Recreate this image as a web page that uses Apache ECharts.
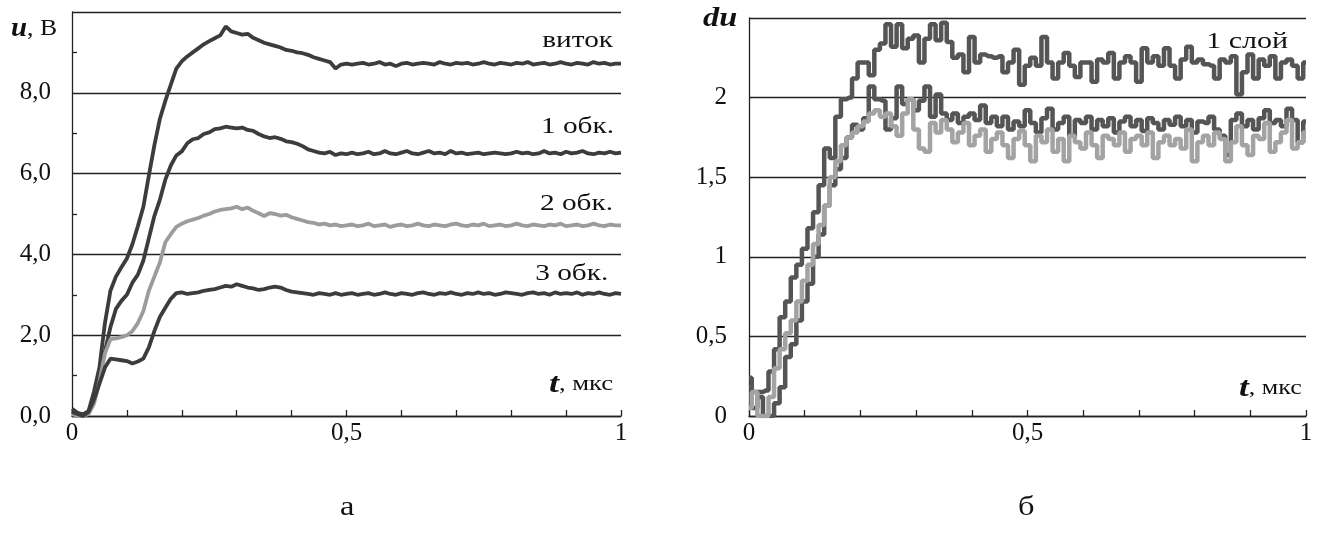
<!DOCTYPE html>
<html>
<head>
<meta charset="utf-8">
<script src="https://cdn.jsdelivr.net/npm/echarts@6/dist/echarts.min.js"></script>
<style>
  html, body { margin: 0; padding: 0; background: #fff; }
  #c { width: 1326px; height: 535px; }
</style>
</head>
<body>
<div id="c"></div>
<script>
// Sampling step of the time axis, microseconds
const T_STEP = 0.01;

// Panel а: voltage u, V for t = 0 … 1 µs
const vitok = [
  0.18, 0.08, 0.04, 0.12, 0.6, 1.2, 2.3, 3.1, 3.45, 3.68,
  3.9, 4.25, 4.7, 5.18, 5.95, 6.7, 7.35, 7.8, 8.2, 8.6,
  8.78, 8.9, 9.0, 9.1, 9.2, 9.28, 9.35, 9.42, 9.64, 9.52,
  9.48, 9.44, 9.46, 9.36, 9.3, 9.24, 9.2, 9.16, 9.12, 9.06,
  9.04, 9.0, 8.98, 8.94, 8.88, 8.84, 8.8, 8.76, 8.6, 8.7,
  8.72,
  8.7, 8.72, 8.74, 8.7, 8.72, 8.76, 8.7, 8.72, 8.66, 8.72,
  8.74, 8.7, 8.72, 8.74, 8.72, 8.7, 8.76, 8.72, 8.7, 8.74,
  8.72, 8.74, 8.7, 8.72, 8.76, 8.72, 8.7, 8.74, 8.72, 8.7,
  8.74, 8.72, 8.76, 8.7, 8.72, 8.74, 8.7, 8.72, 8.76, 8.72,
  8.7, 8.74, 8.72, 8.7, 8.76, 8.72, 8.74, 8.7, 8.72, 8.72
];
const obk1 = [
  0.12, 0.05, 0.02, 0.1, 0.4, 0.95, 1.6, 2.2, 2.65, 2.85,
  3.0, 3.3, 3.5, 3.85, 4.4, 4.95, 5.35, 5.85, 6.2, 6.45,
  6.55, 6.75, 6.85, 6.88, 6.98, 7.02, 7.1, 7.12, 7.16, 7.14,
  7.12, 7.14, 7.08, 7.06, 6.98, 6.92, 6.88, 6.9, 6.86, 6.8,
  6.78, 6.74, 6.68, 6.6, 6.56, 6.52, 6.5, 6.54, 6.46, 6.5,
  6.48,
  6.52, 6.48, 6.5, 6.54, 6.48, 6.5, 6.56, 6.5, 6.48, 6.52,
  6.56, 6.5, 6.48, 6.52, 6.56, 6.5, 6.52, 6.48, 6.56, 6.5,
  6.52, 6.48, 6.5, 6.52, 6.48, 6.5, 6.52, 6.5, 6.48, 6.5,
  6.54, 6.5, 6.52, 6.48, 6.5, 6.56, 6.5, 6.52, 6.48, 6.54,
  6.5, 6.52, 6.56, 6.5, 6.48, 6.52, 6.5, 6.54, 6.5, 6.52
];
const obk2 = [
  0.05, 0.0, 0.0, 0.05, 0.3, 0.85, 1.55, 1.9, 1.92, 1.95,
  2.0, 2.1, 2.3, 2.6, 3.1, 3.45, 3.8, 4.3, 4.5, 4.68,
  4.76, 4.82, 4.86, 4.9, 4.96, 5.0, 5.06, 5.1, 5.12, 5.14,
  5.18, 5.12, 5.16, 5.08, 5.02, 4.95, 5.02, 5.0, 4.96, 4.98,
  4.92, 4.88, 4.84, 4.8, 4.78, 4.74, 4.76, 4.72, 4.74, 4.7,
  4.72,
  4.74, 4.7, 4.72, 4.76, 4.7, 4.72, 4.74, 4.68, 4.72, 4.74,
  4.7, 4.72, 4.76, 4.72, 4.7, 4.74, 4.72, 4.7, 4.74, 4.76,
  4.72, 4.7, 4.74, 4.72, 4.76, 4.7, 4.72, 4.74, 4.7, 4.72,
  4.76, 4.72, 4.7, 4.74, 4.72, 4.7, 4.74, 4.72, 4.76, 4.7,
  4.72, 4.74, 4.7, 4.72, 4.76, 4.72, 4.7, 4.74, 4.72, 4.72
];
const obk3 = [
  0.1, 0.05, 0.0, 0.1, 0.4, 0.8, 1.2, 1.42, 1.4, 1.38,
  1.36, 1.3, 1.35, 1.42, 1.7, 2.1, 2.45, 2.68, 2.9, 3.04,
  3.06, 3.02, 3.04, 3.06, 3.1, 3.12, 3.14, 3.18, 3.22, 3.2,
  3.26, 3.22, 3.18, 3.16, 3.12, 3.14, 3.18, 3.2, 3.18, 3.12,
  3.08, 3.06, 3.04, 3.02, 3.0, 3.04, 3.02, 3.0, 3.04, 3.0,
  3.02,
  3.04, 3.0, 3.02, 3.04, 3.0, 3.02, 3.06, 3.02, 3.0, 3.04,
  3.02, 3.0, 3.04, 3.06, 3.02, 3.0, 3.04, 3.02, 3.06, 3.02,
  3.0, 3.04, 3.02, 3.06, 3.02, 3.04, 3.0, 3.02, 3.06, 3.04,
  3.02, 3.0, 3.04, 3.06, 3.02, 3.04, 3.0, 3.06, 3.02, 3.04,
  3.02, 3.06, 3.0, 3.04, 3.02, 3.06, 3.02, 3.0, 3.04, 3.02
];

// Panel б: du for t = 0 … 1 µs
const sloy1 = [
  0.24, 0.15, 0.15, 0.16, 0.28, 0.42, 0.62, 0.72, 0.87, 0.95,
  1.05, 1.18, 1.28, 1.45, 1.68, 1.62, 1.88, 1.99, 2.0, 2.12,
  2.22, 2.22, 2.14, 2.3, 2.34, 2.46, 2.32, 2.46, 2.31, 2.37,
  2.39, 2.22, 2.37, 2.46, 2.36, 2.47, 2.35, 2.25, 2.27, 2.16,
  2.38, 2.22, 2.27, 2.26, 2.25, 2.26, 2.16, 2.22, 2.3, 2.08,
  2.2, 2.25, 2.2, 2.38, 2.22, 2.12, 2.22, 2.28, 2.2, 2.13,
  2.22, 2.22, 2.1, 2.24, 2.22, 2.28, 2.12, 2.22, 2.26, 2.22,
  2.1, 2.31, 2.22, 2.26, 2.2, 2.31, 2.2, 2.12, 2.24, 2.32,
  2.22, 2.24, 2.21, 2.2, 2.12, 2.24, 2.22, 2.26, 2.02, 2.16,
  2.27, 2.12, 2.24, 2.2, 2.26, 2.12, 2.22, 2.24, 2.2, 2.12,
  2.22
];
const sloy2 = [
  0.18, 0.05, 0.12, 0.0, 0.0, 0.08, 0.18, 0.37, 0.45, 0.6,
  0.72, 0.83, 1.0, 1.14, 1.32, 1.45, 1.55, 1.62, 1.75, 1.83,
  1.8, 1.87, 2.07, 1.99, 1.98, 1.8, 1.87, 2.07, 1.96, 1.99,
  1.92, 1.98, 2.07, 1.88, 2.02, 1.9, 1.86, 1.9, 1.84, 1.88,
  1.9, 1.86, 1.95, 1.84, 1.88, 1.82, 1.88, 1.8, 1.85, 1.82,
  1.92, 1.84, 1.78, 1.87, 1.93, 1.8, 1.84, 1.88, 1.76, 1.86,
  1.84, 1.88, 1.8, 1.86, 1.82, 1.87, 1.78, 1.85, 1.88, 1.82,
  1.86, 1.79, 1.87, 1.84, 1.8, 1.86, 1.83, 1.88, 1.82, 1.86,
  1.78, 1.85, 1.84, 1.88, 1.8, 1.76, 1.64, 1.86, 1.9, 1.82,
  1.86, 1.8, 1.87, 1.92, 1.84, 1.86, 1.82, 1.93, 1.86, 1.72,
  1.85
];
const sloy3 = [
  0.05, 0.15, 0.0, 0.0, 0.12, 0.3, 0.42, 0.52, 0.6, 0.72,
  0.85, 0.95, 1.08, 1.2, 1.32, 1.5, 1.6, 1.7, 1.75, 1.78,
  1.82, 1.85, 1.9, 1.92, 1.88, 1.9, 1.82, 1.76, 1.9, 1.99,
  1.8, 1.68, 1.66, 1.84, 1.78, 1.86, 1.8, 1.72, 1.78, 1.84,
  1.7, 1.76, 1.8, 1.66, 1.74, 1.78, 1.7, 1.62, 1.74, 1.79,
  1.7, 1.6, 1.76, 1.72, 1.8, 1.66, 1.74, 1.6, 1.76, 1.72,
  1.68, 1.78, 1.7, 1.62, 1.76, 1.74, 1.7, 1.78, 1.66, 1.74,
  1.76, 1.7, 1.78, 1.62, 1.72, 1.76, 1.7, 1.74, 1.68, 1.8,
  1.6, 1.72, 1.76, 1.7, 1.78, 1.74, 1.6, 1.72, 1.82, 1.7,
  1.64, 1.76, 1.74, 1.84, 1.66, 1.72, 1.78, 1.86, 1.68, 1.72,
  1.78
];

// Labels
const curveLabelsA = ['виток', '1 обк.', '2 обк.', '3 обк.'];
const curveLabelB = '1 слой';
const panelCaptions = ['а', 'б'];

const withTime = arr => arr.map((v, i) => [+(i * T_STEP).toFixed(2), v]);
const comma = s => String(s).replace('.', ',');
const near = (a, b) => Math.abs(a - b) < 1e-6;

const SERIF = '"Liberation Serif", "Times New Roman", serif';
const INK = '#222';
const DARK = '#3c3c3c';
const LIGHT = '#9c9c9c';

const chart = echarts.init(document.getElementById('c'), null, { renderer: 'canvas' });

const xAxisBase = {
  type: 'value', min: 0, max: 1, interval: 0.1,
  axisLine: { show: true, onZero: false, lineStyle: { color: INK, width: 1.3 } },
  axisTick: { show: true, inside: true, length: 6, lineStyle: { color: INK, width: 1.3 } },
  splitLine: { show: false },
  axisLabel: {
    fontFamily: SERIF, fontSize: 25, color: '#111', margin: 5,
    formatter: v => (near(v, 0) || near(v, 0.5) || near(v, 1)) ? comma(+v.toFixed(1)) : ''
  }
};

// Text helper: a label drawn at (x, y) and stretched horizontally around its anchor
const label = (text, x, y, size, align, sx, extra, z) => ({
  type: 'text', x: x, y: y, scaleX: sx, z: z === undefined ? 100 : z,
  style: Object.assign({ text: text, fill: '#111', fontFamily: SERIF, fontSize: size,
    align: align, verticalAlign: 'middle' }, extra || {})
});

const titleRich = {
  b: { fontFamily: SERIF, fontSize: 27, fontWeight: 'bold', fontStyle: 'italic' },
  n: { fontFamily: SERIF, fontSize: 24 },
  s: { fontFamily: SERIF, fontSize: 20 }
};

chart.setOption({
  animation: false,
  backgroundColor: '#fff',
  grid: [
    { left: 72, top: 12, width: 549, height: 404 },
    { left: 749, top: 18, width: 557, height: 398 }
  ],
  xAxis: [
    Object.assign({ gridIndex: 0 }, xAxisBase),
    Object.assign({ gridIndex: 1 }, xAxisBase)
  ],
  yAxis: [
    {
      gridIndex: 0, type: 'value', min: 0, max: 10, interval: 2,
      axisLine: { show: true, lineStyle: { color: INK, width: 1.3 } },
      axisTick: { show: false, inside: true },
      minorTick: { show: true, splitNumber: 2, length: 5, lineStyle: { color: INK, width: 1.3 } },
      splitLine: { show: true, lineStyle: { color: INK, width: 1.3 } },
      axisLabel: {
        fontFamily: SERIF, fontSize: 25, color: '#111', margin: 21,
        formatter: v => near(v, 10) ? '' : comma(v.toFixed(1))
      }
    },
    {
      gridIndex: 1, type: 'value', min: 0, max: 2.5, interval: 0.5,
      axisLine: { show: true, lineStyle: { color: INK, width: 1.3 } },
      axisTick: { show: false },
      splitLine: { show: true, lineStyle: { color: INK, width: 1.3 } },
      axisLabel: {
        fontFamily: SERIF, fontSize: 25, color: '#111', margin: 22,
        formatter: v => near(v, 2.5) ? '' : comma(+v.toFixed(1))
      }
    }
  ],
  series: [
    { name: curveLabelsA[0], type: 'line', xAxisIndex: 0, yAxisIndex: 0, data: withTime(vitok), showSymbol: false, lineStyle: { color: DARK, width: 3.8 } },
    { name: curveLabelsA[1], type: 'line', xAxisIndex: 0, yAxisIndex: 0, data: withTime(obk1), showSymbol: false, lineStyle: { color: DARK, width: 3.8 } },
    { name: curveLabelsA[2], type: 'line', xAxisIndex: 0, yAxisIndex: 0, data: withTime(obk2), showSymbol: false, lineStyle: { color: LIGHT, width: 3.8 } },
    { name: curveLabelsA[3], type: 'line', xAxisIndex: 0, yAxisIndex: 0, data: withTime(obk3), showSymbol: false, lineStyle: { color: DARK, width: 3.8 } },
    { name: curveLabelB, type: 'line', step: 'middle', xAxisIndex: 1, yAxisIndex: 1, data: withTime(sloy1), showSymbol: false, lineStyle: { color: '#555', width: 4.5 } },
    { name: '2', type: 'line', step: 'middle', xAxisIndex: 1, yAxisIndex: 1, data: withTime(sloy2), showSymbol: false, lineStyle: { color: '#555', width: 4.5 } },
    { name: '3', type: 'line', step: 'middle', xAxisIndex: 1, yAxisIndex: 1, data: withTime(sloy3), showSymbol: false, lineStyle: { color: '#a3a3a3', width: 4.5 } }
  ],
  graphic: [
    // axis titles
    label('{b|u}{n|, В}', 11, 29, 24, 'left', 1.07, { rich: titleRich }),
    label('{b|du}', 703, 19, 27, 'left', 1.2, { rich: titleRich }),
    label('{b|t}{s|, мкс}', 549, 385, 20, 'left', 1.33, { rich: titleRich }),
    label('{b|t}{s|, мкс}', 1239, 389, 20, 'left', 1.3, { rich: titleRich }),
    // curve labels
    label(curveLabelsA[0], 613, 41, 24, 'right', 1.22),
    label(curveLabelsA[1], 614, 127, 24, 'right', 1.22),
    label(curveLabelsA[2], 613, 204, 24, 'right', 1.22),
    // white backing breaks the 4,0 grid line behind this label (kept under the curves)
    label(curveLabelsA[3], 618, 274, 24, 'right', 1.22,
      { backgroundColor: '#fff', padding: [12, 8, 0, 5], lineHeight: 24 }, 1),
    label(curveLabelB, 1288, 42, 24, 'right', 1.25),
    // panel captions
    label(panelCaptions[0], 340, 508, 27, 'left', 1.2),
    label(panelCaptions[1], 1018, 508, 27, 'left', 1.2)
  ]
});
</script>
</body>
</html>
